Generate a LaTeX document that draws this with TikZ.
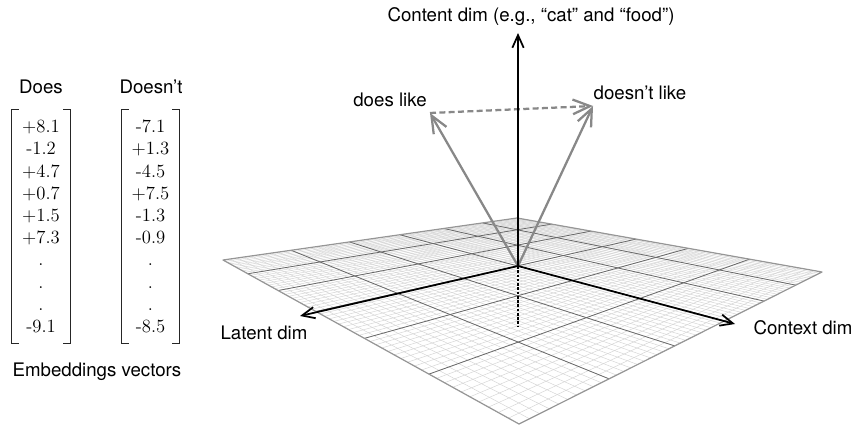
\documentclass[tikz,border=0pt]{standalone}
\usepackage{fontspec}
\newfontfamily\hvfont{TeX Gyre Heros}
\usetikzlibrary{arrows.meta}
\definecolor{minorc}{RGB}{212,212,212}
\definecolor{majorc}{RGB}{105,105,105}
\definecolor{borderc}{RGB}{150,150,150}
\definecolor{arrgray}{RGB}{136,136,136}
% projective map of the ground square: (u,v) in [0,1]^2 -> picture point
\newcommand\gridpt[2]{%
  \pgfmathsetmacro\gpw{1+1.1142*#1+1.1865*#2}%
  \pgfmathsetmacro\gpx{(519+1218.9*#1-31.4*#2)/\gpw}%
  \pgfmathsetmacro\gpy{(424+151.1*#1+144.5*#2)/\gpw}%
}
\begin{document}
\begin{tikzpicture}[x=0.75pt,y=-0.75pt,
  lbl/.style={font=\hvfont\fontsize{14}{16}\selectfont, inner sep=0pt},
  vec/.style={font=\fontsize{14}{16.65}\selectfont, align=center, inner sep=0pt,
              minimum width=43.5pt, minimum height=174.75pt},
  bracket/.style={line width=0.8pt, black!85},
  minorline/.style={draw=minorc, line width=0.35pt},
  majorline/.style={draw=majorc, line width=0.6pt},
  borderline/.style={draw=borderc, line width=0.9pt, line join=round},
  axis/.style={line width=1.3pt, -{Straight Barb[length=9.5pt,width=8.5pt]}},
  wordvec/.style={line width=1.7pt, draw=arrgray, -{Straight Barb[length=13pt,width=11pt]}},
  wordshift/.style={line width=1.7pt, draw=arrgray, dash pattern=on 4.5pt off 2.5pt,
              -{Straight Barb[length=13pt,width=11pt]}},
  below/.style={line width=1.2pt, dash pattern=on 2pt off 1.2pt}
]
\useasboundingbox (0,0) rectangle (855,427);

% ---------- embedding vectors ----------
\node[lbl] (does) at (41,87) {Does};
\node[lbl] (doesnt) at (151,87) {Doesn’t};
\node[vec] (doesvec) at (41,226.5)
  {+8.1\\-1.2\\+4.7\\+0.7\\+1.5\\+7.3\\.\\.\\.\\-9.1};
\node[vec, minimum width=42.75pt] (doesntvec) at (150.5,226.5)
  {-7.1\\+1.3\\-4.5\\+7.5\\-1.3\\-0.9\\.\\.\\.\\-8.5};
\foreach \v in {doesvec,doesntvec}{
  \draw[bracket] ([xshift=5.25pt]\v.north west) -- (\v.north west)
                 -- (\v.south west) -- ([xshift=5.25pt]\v.south west);
  \draw[bracket] ([xshift=-5.25pt]\v.north east) -- (\v.north east)
                 -- (\v.south east) -- ([xshift=-5.25pt]\v.south east);
}
\node[lbl] (embed) at (97,372) {Embeddings vectors};

% ---------- ground grid ----------
\foreach \i in {0,...,60}{
  \pgfmathsetmacro\gu{\i/60}
  \gridpt{\gu}{0}\coordinate (ga) at (\gpx,\gpy);
  \gridpt{\gu}{1}\coordinate (gb) at (\gpx,\gpy);
  \gridpt{0}{\gu}\coordinate (gc) at (\gpx,\gpy);
  \gridpt{1}{\gu}\coordinate (gd) at (\gpx,\gpy);
  \draw[minorline] (ga) -- (gb);
  \draw[minorline] (gc) -- (gd);
}
\foreach \i in {10,20,...,50}{
  \pgfmathsetmacro\gu{\i/60}
  \gridpt{\gu}{0}\coordinate (ga) at (\gpx,\gpy);
  \gridpt{\gu}{1}\coordinate (gb) at (\gpx,\gpy);
  \gridpt{0}{\gu}\coordinate (gc) at (\gpx,\gpy);
  \gridpt{1}{\gu}\coordinate (gd) at (\gpx,\gpy);
  \draw[majorline] (ga) -- (gb);
  \draw[majorline] (gc) -- (gd);
}
\coordinate (gB) at (519,424);
\coordinate (gR) at (822,272);
\coordinate (gT) at (517,218);
\coordinate (gL) at (223,260);
\draw[borderline] (gB) -- (gR) -- (gT) -- (gL) -- cycle;

% ---------- axes and word vectors ----------
\coordinate (O) at (518,266);
\coordinate (ctop) at (518,33);
\coordinate (cdown) at (518,327);
\coordinate (lat) at (300,316);
\coordinate (ctx) at (735,324);
\coordinate (dl) at (430,113);
\coordinate (dnl) at (593,106);

\draw[below] (O) -- (cdown);
\draw[wordvec] (O) -- (dl);
\draw[wordvec] (O) -- (dnl);
\draw[wordshift] (dl) -- (dnl);
\draw[axis] (O) -- (ctop);
\draw[axis] (O) -- (lat);
\draw[axis] (O) -- (ctx);

\node[lbl] (content) at (531,17) {Content dim (e.g., “cat” and “food”)};
\node[lbl] (doeslike) at (390,100) {does like};
\node[lbl] (doesntlike) at (640,93) {doesn’t like};
\node[lbl] (latent) at (264,333) {Latent dim};
\node[lbl] (context) at (803,328) {Context dim};
\end{tikzpicture}
\end{document}
